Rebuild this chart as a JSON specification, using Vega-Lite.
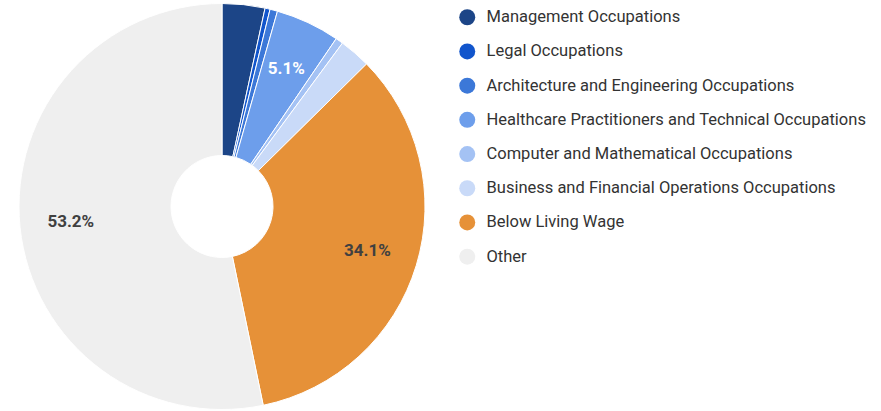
{
  "$schema": "https://vega.github.io/schema/vega-lite/v6.json",
  "autosize": {"type": "none"},
  "padding": {"left": 0, "top": 0, "right": 437, "bottom": 0},
  "width": 444,
  "height": 413,
  "background": "white",
  "config": {"view": {"stroke": null}},
  "data": {"values": [
    {"cat": "Management Occupations", "idx": 1, "pct": 3.4, "label": ""},
    {"cat": "Legal Occupations", "idx": 2, "pct": 0.4, "label": ""},
    {"cat": "Architecture and Engineering Occupations", "idx": 3, "pct": 0.6, "label": ""},
    {"cat": "Healthcare Practitioners and Technical Occupations", "idx": 4, "pct": 5.1, "label": "5.1%"},
    {"cat": "Computer and Mathematical Occupations", "idx": 5, "pct": 0.6, "label": ""},
    {"cat": "Business and Financial Operations Occupations", "idx": 6, "pct": 2.5, "label": ""},
    {"cat": "Below Living Wage", "idx": 7, "pct": 34.1, "label": "34.1%"},
    {"cat": "Other", "idx": 8, "pct": 53.2, "label": "53.2%"}
  ]},
  "encoding": {
    "theta": {"field": "pct", "type": "quantitative", "stack": true},
    "order": {"field": "idx", "type": "quantitative"}
  },
  "layer": [
    {
      "mark": {"type": "arc", "outerRadius": 203, "innerRadius": 51, "stroke": "white", "strokeWidth": 1},
      "encoding": {
        "color": {
          "field": "cat", "type": "nominal",
          "scale": {
            "domain": ["Management Occupations", "Legal Occupations", "Architecture and Engineering Occupations", "Healthcare Practitioners and Technical Occupations", "Computer and Mathematical Occupations", "Business and Financial Operations Occupations", "Below Living Wage", "Other"],
            "range": ["#1c4587", "#1155cc", "#3c78d8", "#6d9eeb", "#a4c2f4", "#c9daf8", "#e69138", "#efefef"]
          },
          "legend": {
            "title": null,
            "orient": "none",
            "legendX": 459,
            "legendY": 9,
            "symbolType": "circle",
            "symbolSize": 256,
            "symbolStrokeWidth": 0,
            "labelFont": "Roboto",
            "labelFontSize": 16.5,
            "labelColor": "#333333",
            "labelOffset": 11,
            "labelLimit": 500,
            "rowPadding": 17.2
          }
        }
      }
    },
    {
      "mark": {"type": "text", "radius": 152, "font": "Roboto", "fontSize": 17, "fontWeight": "bold"},
      "encoding": {
        "text": {"field": "label"},
        "color": {"condition": {"test": "datum.idx === 4", "value": "white"}, "value": "#404040"}
      }
    }
  ]
}
